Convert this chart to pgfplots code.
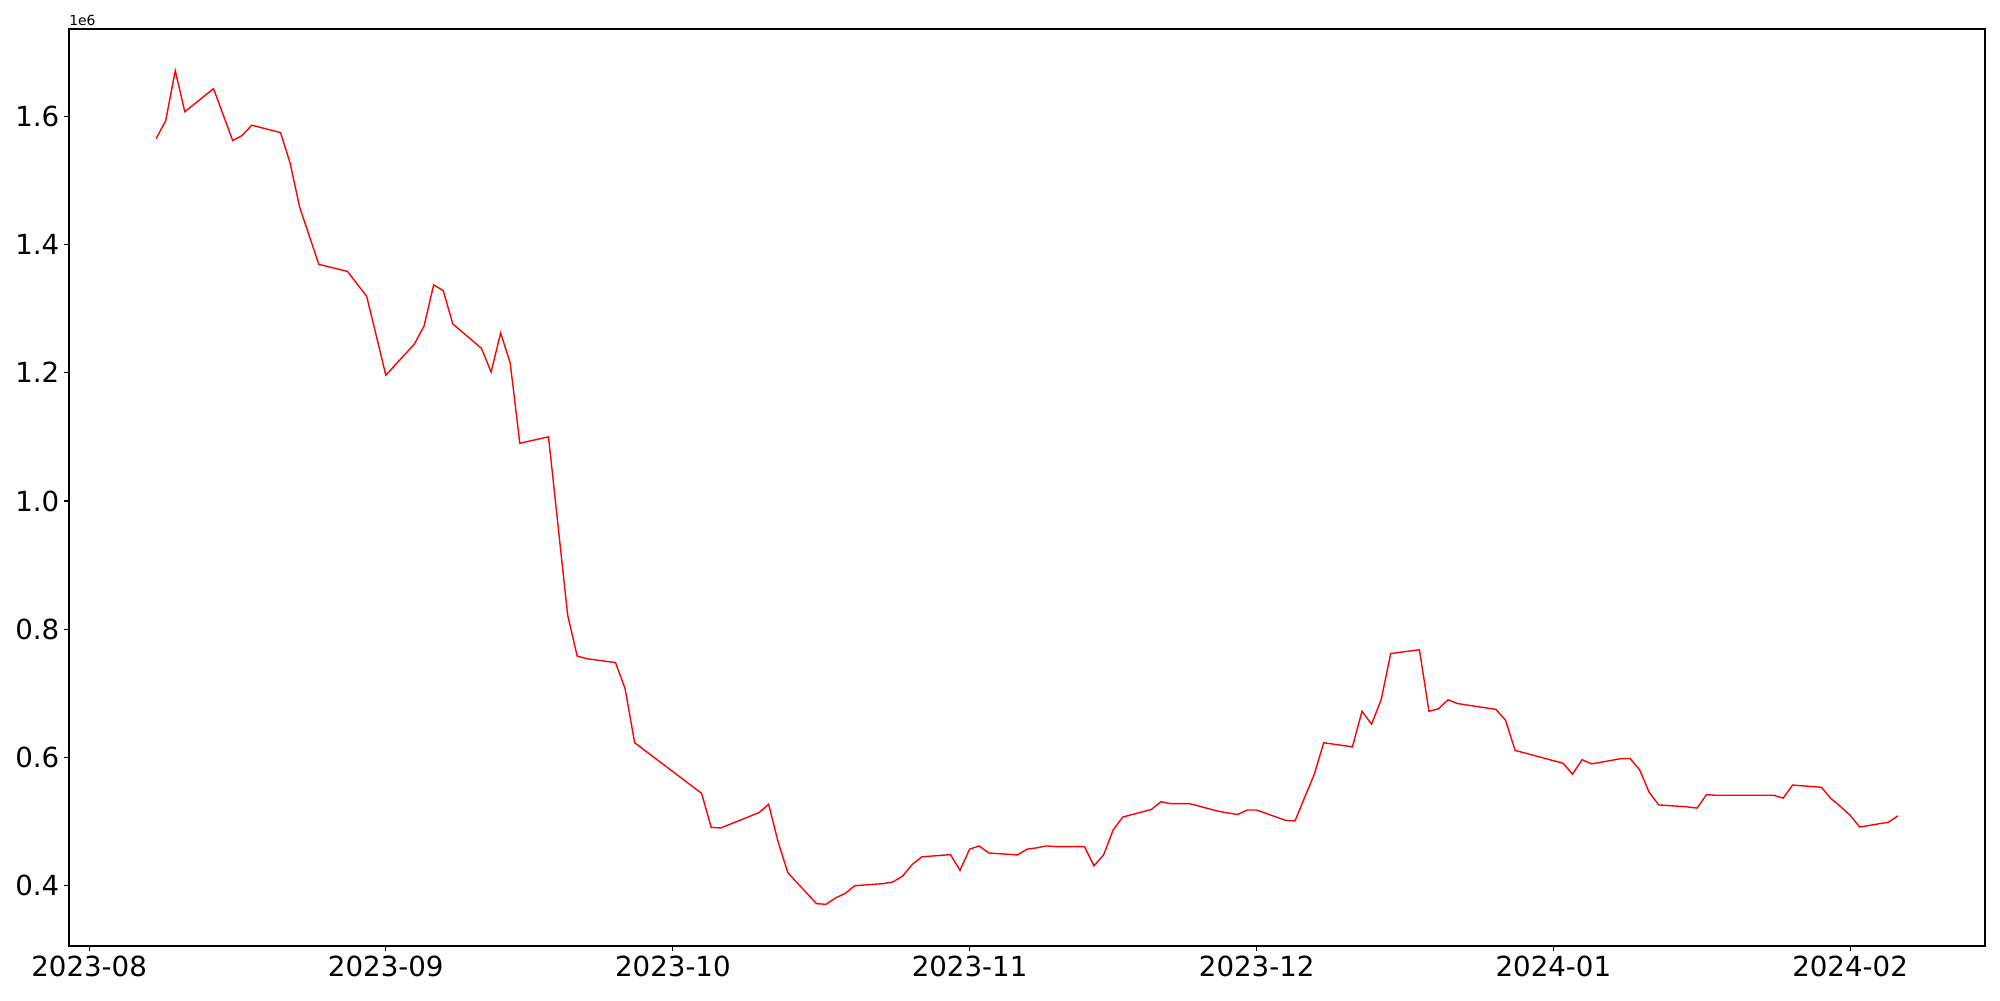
\documentclass[border=0pt]{standalone}
\usepackage{pgfplots}
\pgfplotsset{compat=1.18}
\usepackage{fontspec}
\setmainfont{DejaVu Sans}
\begin{document}
\begin{tikzpicture}
\begin{axis}[
  name=ax,
  scale only axis,
  width=1379.5bp, height=660.2bp,
  xmin=-2.1, xmax=198.1,
  ymin=0.306, ymax=1.736,
  xtick={0,31,61,92,122,153,184},
  xticklabels={2023-08,2023-09,2023-10,2023-11,2023-12,2024-01,2024-02},
  ytick={0.4,0.6,0.8,1.0,1.2,1.4,1.6},
  yticklabel style={/pgf/number format/.cd,fixed,fixed zerofill,precision=1,assume math mode=true},
  xticklabel style={/pgf/number format/assume math mode=true},
  tick label style={font=\fontsize{20}{24}\selectfont},
  tick pos=left,
  tick align=outside,
  major tick length=3.5bp,
  every tick/.style={line width=0.8bp, black},
  axis line style={line width=0.8bp},
  scaled ticks=false,
  clip=false,
]
\addplot[color=red, line width=1bp, mark=none] coordinates {
(7,1.565) (8,1.593) (9,1.671) (10,1.607) (13,1.643) (15,1.562) (16,1.570) (17,1.586)
(20,1.5745) (21,1.527) (22,1.458) (24,1.369) (27,1.358) (29,1.319) (30,1.258) (31,1.196)
(34,1.245) (35,1.273) (36,1.337) (37,1.328) (38,1.276) (41,1.238) (42,1.201) (43,1.262)
(44,1.215) (45,1.090) (48,1.100) (50,0.822) (51,0.758) (52,0.754) (55,0.748) (56,0.7075)
(57,0.623) (64,0.544) (65,0.491) (66,0.490) (70,0.514) (71,0.527) (72,0.468) (73,0.4205)
(76,0.372) (77,0.371) (78,0.381) (79,0.388) (80,0.400) (83,0.4033) (84,0.406) (85,0.415)
(86,0.433) (87,0.445) (90,0.4485) (91,0.424) (92,0.457) (93,0.462) (94,0.451) (97,0.448)
(98,0.457) (99,0.459) (100,0.462) (101,0.461) (104,0.461) (105,0.431) (106,0.448) (107,0.487)
(108,0.507) (111,0.519) (112,0.531) (113,0.528) (115,0.528) (118,0.516) (120,0.511) (121,0.518)
(122,0.518) (125,0.502) (126,0.501) (127,0.5375) (128,0.573) (129,0.623) (132,0.6165) (133,0.672)
(134,0.652) (135,0.690) (136,0.762) (139,0.768) (140,0.672) (141,0.676) (142,0.690) (143,0.684)
(147,0.675) (148,0.658) (149,0.611) (154,0.591) (155,0.574) (156,0.5965) (157,0.590) (160,0.598)
(161,0.5985) (162,0.581) (163,0.546) (164,0.526) (167,0.523) (168,0.521) (169,0.542) (170,0.541)
(176,0.541) (177,0.5365) (178,0.557) (181,0.5535) (182,0.536) (183,0.5235) (184,0.510) (185,0.4915)
(188,0.499) (189,0.509)
};
\node[anchor=south west, inner sep=0pt, font=\fontsize{10}{12}\selectfont] at ([yshift=2bp]rel axis cs:0,1) {1e6};
\end{axis}
\path ([xshift=-49.7bp,yshift=-38.9bp]ax.south west) rectangle ([xshift=10.8bp,yshift=20.9bp]ax.north east);
\end{tikzpicture}
\end{document}
